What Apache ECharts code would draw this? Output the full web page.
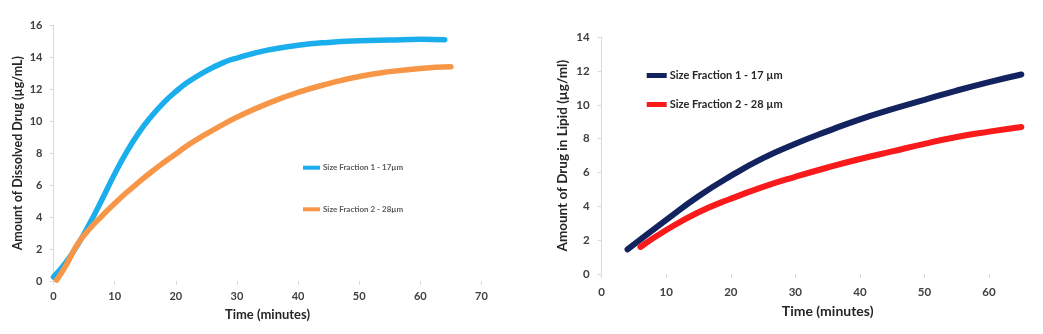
<!DOCTYPE html>
<html><head><meta charset="utf-8">
<script src="https://cdn.jsdelivr.net/npm/echarts@6/dist/echarts.min.js"></script>
<style>html,body{margin:0;padding:0;background:#fff}#c{width:1043px;height:334px}</style>
</head><body><div id="c"></div>
<script>
// Left chart: dissolved drug
const leftNames = ['Size Fraction 1 - 17µm', 'Size Fraction 2 - 28µm'];
const leftBlueX = [0, 2, 4, 6, 8, 10, 12, 14, 16, 18, 20, 22, 25, 28, 30, 35, 40, 45, 50, 55, 60, 64];
const leftBlueY = [0.25, 1.15, 2.3, 3.65, 5.15, 6.7, 8.1, 9.3, 10.3, 11.15, 11.85, 12.45, 13.15, 13.7, 13.95, 14.45, 14.75, 14.93, 15.03, 15.08, 15.12, 15.1];
const leftOrangeX = [0.5, 2, 4, 6, 8, 10, 12, 14, 16, 18, 20, 22, 25, 28, 30, 35, 40, 45, 50, 55, 60, 65];
const leftOrangeY = [0.06, 0.95, 2.35, 3.3, 4.1, 4.85, 5.55, 6.2, 6.82, 7.4, 7.95, 8.5, 9.2, 9.85, 10.25, 11.1, 11.8, 12.35, 12.8, 13.1, 13.3, 13.4];
// Right chart: drug in lipid
const rightNames = ['Size Fraction 1 - 17 µm', 'Size Fraction 2 - 28 µm'];
const rightNavyX = [4, 10, 15, 20, 25, 30, 35, 40, 45, 50, 55, 60, 65];
const rightNavyY = [1.45, 3.2, 4.6, 5.8, 6.85, 7.7, 8.45, 9.15, 9.75, 10.3, 10.85, 11.35, 11.8];
const rightRedX = [6, 10, 15, 20, 25, 30, 35, 40, 45, 50, 55, 60, 65];
const rightRedY = [1.6, 2.6, 3.65, 4.45, 5.15, 5.75, 6.3, 6.8, 7.25, 7.7, 8.1, 8.42, 8.7];
const xTitle = 'Time (minutes)';
const leftYTitle = 'Amount of Dissolved Drug (µg/mL)';
const rightYTitle = 'Amount of Drug in Lipid (µg/ml)';

const zip = (xs, ys) => xs.map((x, i) => [x, ys[i]]);
const FONT = 'Lato';
const lab = { color: '#404040', fontWeight: 'bold', fontFamily: FONT, fontSize: 11 };
const axLine = { show: true, lineStyle: { color: '#d9d9d9', width: 1 } };
const axTick = { show: true, length: 4, lineStyle: { color: '#d9d9d9' } };

function xAx(gi, gap, margin, titleSize, fontSize) {
  return { type: 'value', gridIndex: gi, min: 0, max: 70, interval: 10,
    name: xTitle, nameLocation: 'middle', nameGap: gap,
    nameTextStyle: { color: '#262626', fontWeight: 'bold', fontFamily: FONT, fontSize: titleSize },
    axisLine: { show: false }, axisTick: axTick, splitLine: { show: false },
    axisLabel: Object.assign({}, lab, { margin: margin, fontSize: fontSize }) };
}
function yAx(gi, max, title, gap, margin, titleSize, fontSize) {
  return { type: 'value', gridIndex: gi, min: 0, max: max, interval: 2,
    name: title, nameLocation: 'middle', nameGap: gap,
    nameTextStyle: { color: '#262626', fontWeight: 'bold', fontFamily: FONT, fontSize: titleSize },
    axisLine: axLine, axisTick: axTick, splitLine: { show: false },
    axisLabel: Object.assign({}, lab, { margin: margin, fontSize: fontSize }) };
}
function ser(name, data, color, xi, width) {
  return { name: name, type: 'line', xAxisIndex: xi, yAxisIndex: xi, data: data,
    smooth: 0.5, showSymbol: false, symbol: 'none', color: color,
    lineStyle: { color: color, width: width, cap: 'round' } };
}
function leg(name, left, top, w, h, size, color) {
  return { data: [{ name: name, icon: 'rect' }], orient: 'vertical', left: left, top: top,
    itemWidth: w, itemHeight: h, padding: 0, selectedMode: false,
    textStyle: { color: color, fontWeight: 'bold', fontFamily: FONT, fontSize: size, padding: [0, 0, 0, -2] } };
}

const chart = echarts.init(document.getElementById('c'));
chart.setOption({
  animation: false,
  backgroundColor: '#fff',
  grid: [
    { left: 53.5, width: 427.9, top: 25.3, height: 255.7, outerBoundsMode: 'none', containLabel: false },
    { left: 601.7, width: 451.9, top: 37.3, height: 236.7, outerBoundsMode: 'none', containLabel: false }
  ],
  xAxis: [xAx(0, 27, 10, 13, 11), xAx(1, 30, 12, 14, 11.5)],
  yAxis: [yAx(0, 16, leftYTitle, 29, 11, 12.5, 11), yAx(1, 14, rightYTitle, 32, 12, 13.5, 11.5)],
  legend: [
    leg(leftNames[0], 303, 163.7, 17, 4, 8, '#595959'),
    leg(leftNames[1], 303, 205.3, 17, 4, 8, '#595959'),
    leg(rightNames[0], 646.7, 70, 20, 5, 11, '#262626'),
    leg(rightNames[1], 646.7, 99, 20, 5, 11, '#262626')
  ],
  series: [
    ser(leftNames[0], zip(leftBlueX, leftBlueY), '#1BAEEC', 0, 5.5),
    ser(leftNames[1], zip(leftOrangeX, leftOrangeY), '#F79646', 0, 5.5),
    ser(rightNames[0], zip(rightNavyX, rightNavyY), '#12235F', 1, 6),
    ser(rightNames[1], zip(rightRedX, rightRedY), '#F91B1B', 1, 6)
  ]
});
</script></body></html>
